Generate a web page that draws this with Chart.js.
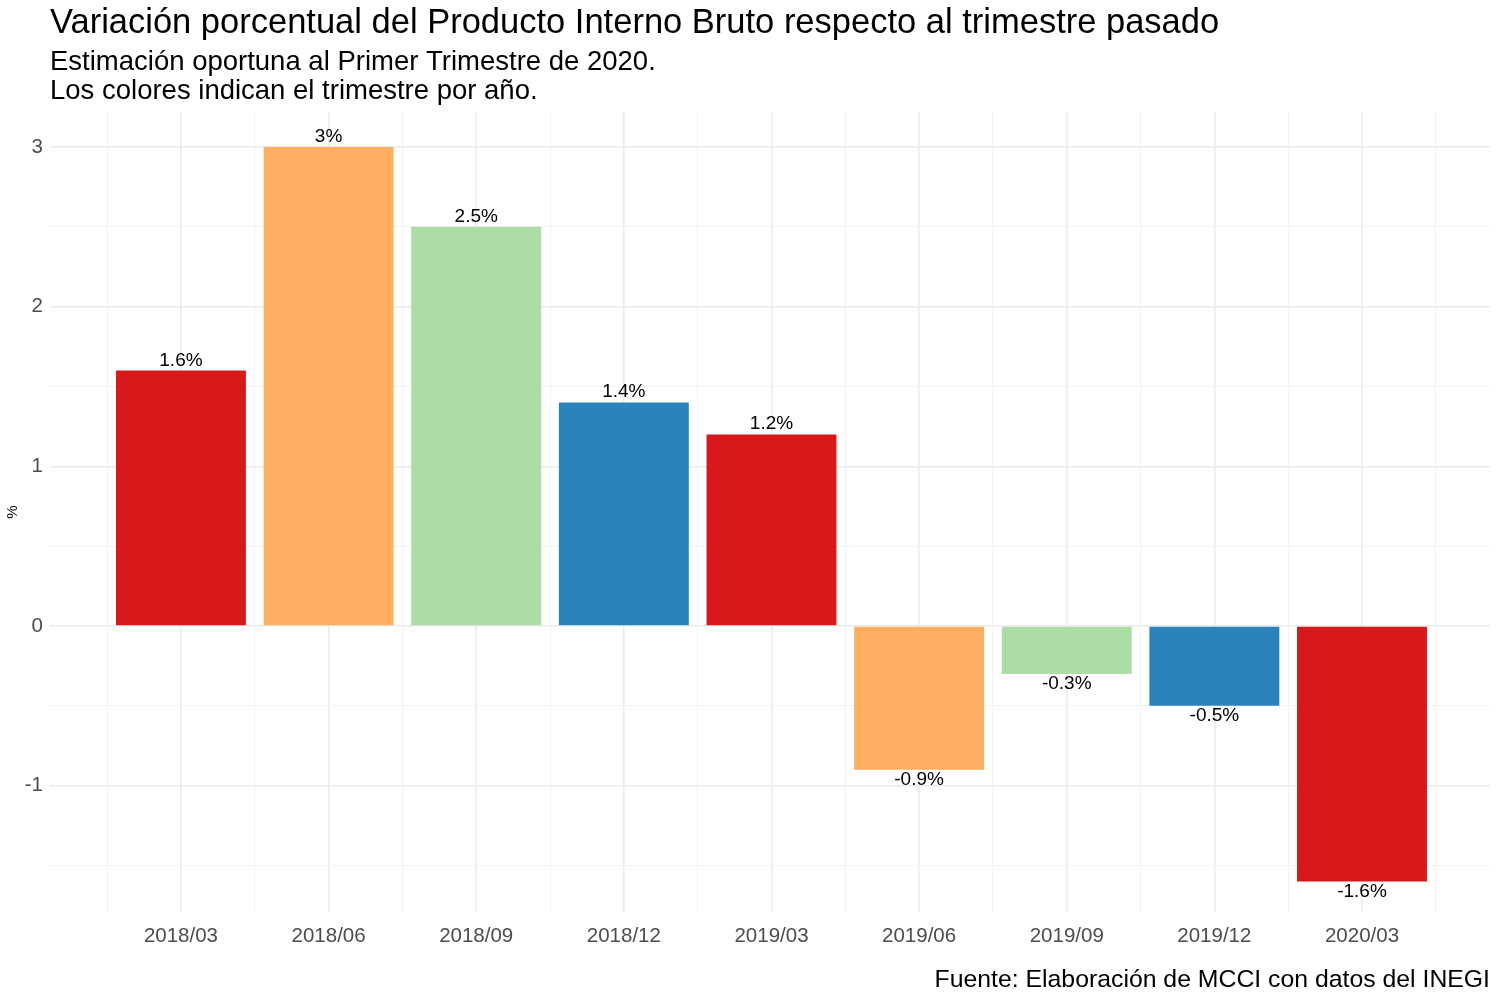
<!DOCTYPE html>
<html lang="es">
<head>
    <meta charset="UTF-8">
    <title>Variación porcentual del PIB</title>
    <script src="https://cdn.jsdelivr.net/npm/chart.js"></script>
    <style>
        html, body { margin: 0; padding: 0; background: #ffffff; }
        #wrap { width: 1500px; height: 1000px; position: relative; }
    </style>
</head>
<body>
<div id="wrap"><canvas id="pib"></canvas></div>
<script>
    // Datos
    const quarters = ['2018/03', '2018/06', '2018/09', '2018/12', '2019/03', '2019/06', '2019/09', '2019/12', '2020/03'];
    const variation = [1.6, 3.0, 2.5, 1.4, 1.2, -0.9, -0.3, -0.5, -1.6];
    const valueLabels = ['1.6%', '3%', '2.5%', '1.4%', '1.2%', '-0.9%', '-0.3%', '-0.5%', '-1.6%'];
    const quarterColors = { '03': '#D7191C', '06': '#FDAE61', '09': '#ABDDA4', '12': '#2B83BA' };

    const FONT = '"Liberation Sans", Arial, Helvetica, sans-serif';

    // Títulos, subtítulo y fuente
    const textPlugin = {
        id: 'texts',
        afterDraw(chart) {
            const ctx = chart.ctx;
            ctx.save();
            ctx.fillStyle = '#000000';
            ctx.textAlign = 'left';
            ctx.textBaseline = 'alphabetic';
            ctx.font = '34.5px ' + FONT;
            ctx.fillText('Variación porcentual del Producto Interno Bruto respecto al trimestre pasado', 50, 33);
            ctx.font = '27.5px ' + FONT;
            ctx.fillText('Estimación oportuna al Primer Trimestre de 2020.', 50, 70);
            ctx.fillText('Los colores indican el trimestre por año.', 50, 99);
            ctx.textAlign = 'right';
            ctx.font = '24.8px ' + FONT;
            ctx.fillText('Fuente: Elaboración de MCCI con datos del INEGI', 1490, 987);
            ctx.restore();
        }
    };

    // Etiquetas de valor sobre/bajo cada barra
    const barLabels = {
        id: 'barLabels',
        afterDatasetsDraw(chart) {
            const ctx = chart.ctx;
            const meta = chart.getDatasetMeta(0);
            ctx.save();
            ctx.font = '19px ' + FONT;
            ctx.fillStyle = '#000000';
            ctx.textAlign = 'center';
            ctx.textBaseline = 'alphabetic';
            meta.data.forEach((bar, i) => {
                const y = variation[i] >= 0 ? bar.y - 5 : bar.y + 15;
                ctx.fillText(valueLabels[i], bar.x, y);
            });
            ctx.restore();
        }
    };

    const isMajor = ctx => ctx.tick && Number.isInteger(ctx.tick.value);
    const gridColor = ctx => isMajor(ctx) ? '#EBEBEB' : '#F3F3F3';
    const gridWidth = ctx => isMajor(ctx) ? 1.6 : 1;

    new Chart(document.getElementById('pib'), {
        type: 'bar',
        data: {
            datasets: [{
                data: variation.map((v, i) => ({ x: i, y: v })),
                backgroundColor: quarters.map(q => quarterColors[q.split('/')[1]]),
                borderWidth: 0,
                categoryPercentage: 1,
                // the ruler counts the half-step ticks too, so 0.88 of a category = 1.76 of a half step
                barPercentage: 1.76
            }]
        },
        options: {
            responsive: true,
            maintainAspectRatio: false,
            animation: false,
            layout: { padding: { top: 112, right: 10, left: 0, bottom: 0 } },
            plugins: {
                legend: { display: false },
                tooltip: { enabled: false }
            },
            scales: {
                x: {
                    type: 'linear',
                    offset: false,
                    min: -0.887,
                    max: 8.867,
                    border: { display: false },
                    grid: { color: gridColor, lineWidth: gridWidth, drawTicks: false, offset: false },
                    afterFit(scale) { scale.height = 88; },
                    ticks: {
                        stepSize: 0.5,
                        includeBounds: false,
                        autoSkip: false,
                        maxRotation: 0,
                        padding: 12,
                        color: '#4D4D4D',
                        font: { family: FONT, size: 20.5 },
                        callback: v => Number.isInteger(v) ? (quarters[v] || '') : ''
                    }
                },
                y: {
                    min: -1.791,
                    max: 3.219,
                    border: { display: false },
                    grid: { color: gridColor, lineWidth: gridWidth, drawTicks: false },
                    afterFit(scale) { scale.width = 50; },
                    title: {
                        display: true,
                        text: '%',
                        color: '#000000',
                        font: { family: FONT, size: 15 },
                        padding: { top: 4, bottom: 0 }
                    },
                    ticks: {
                        stepSize: 0.5,
                        includeBounds: false,
                        padding: 7,
                        color: '#4D4D4D',
                        font: { family: FONT, size: 20.5 },
                        callback: v => Number.isInteger(v) ? String(v) : ''
                    }
                }
            }
        },
        plugins: [textPlugin, barLabels]
    });
</script>
</body>
</html>
